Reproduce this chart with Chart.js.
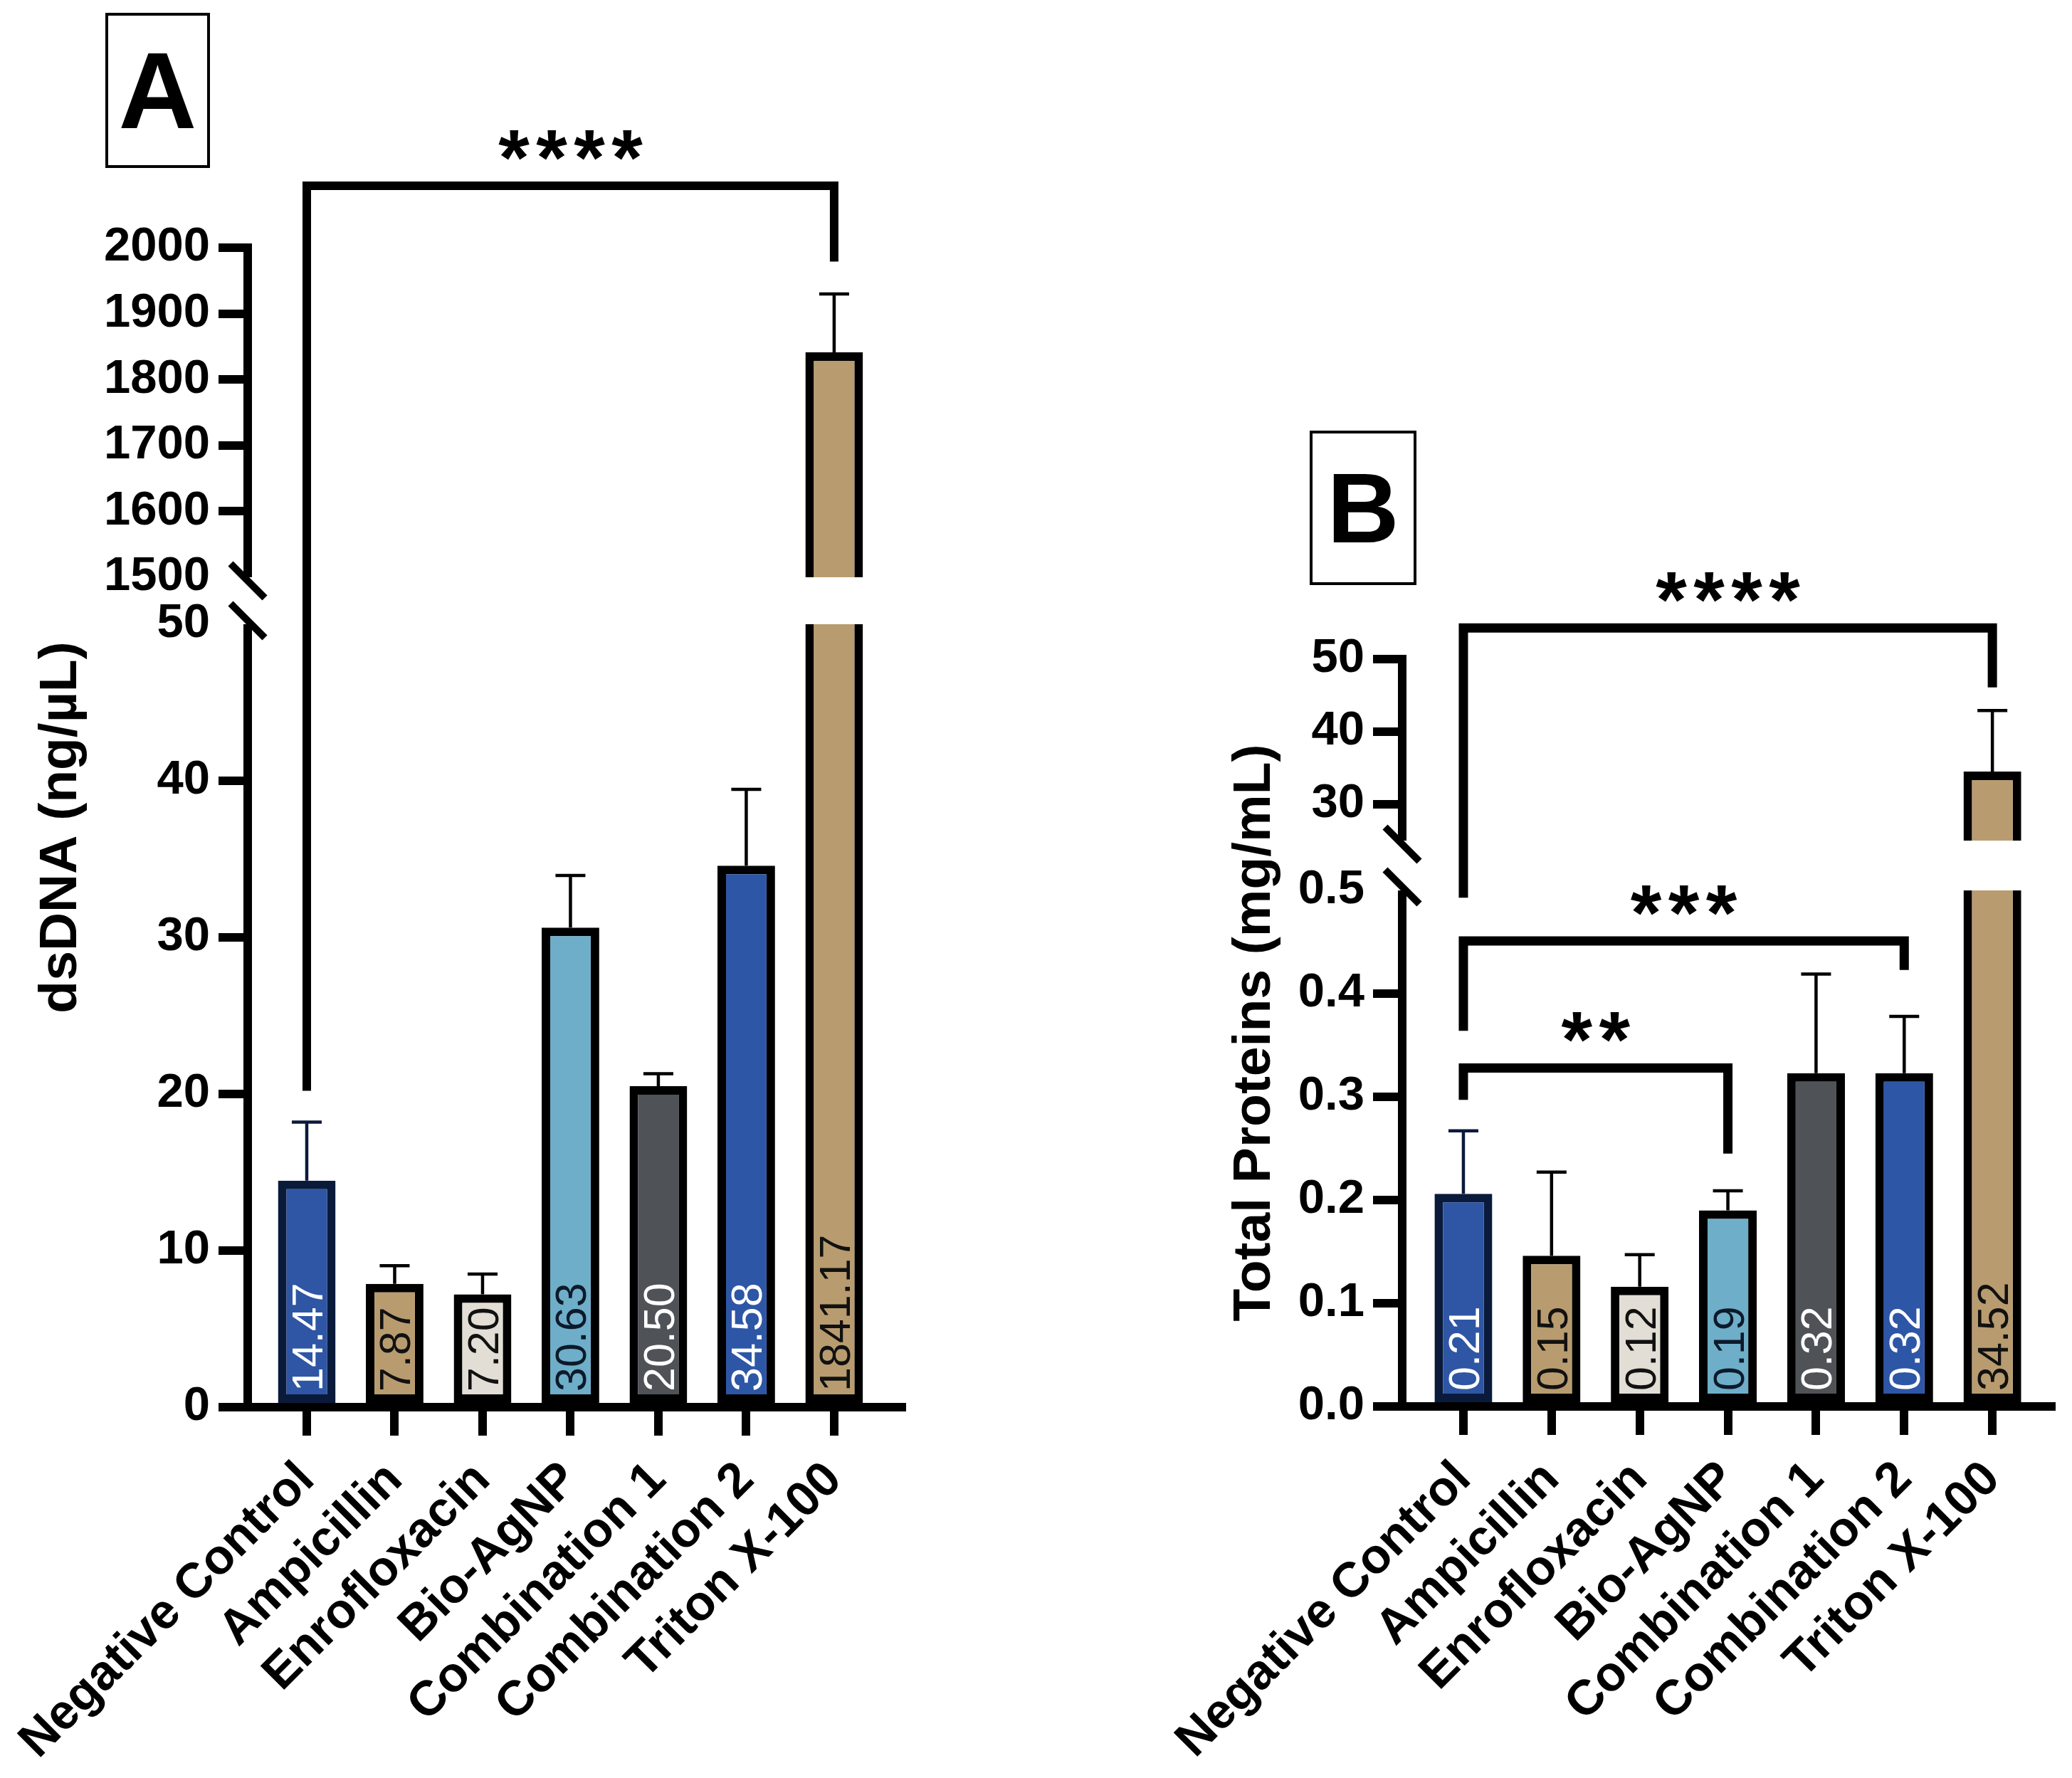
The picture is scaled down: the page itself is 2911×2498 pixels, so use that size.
<!DOCTYPE html>
<html>
<head>
<meta charset="utf-8">
<script src="https://cdn.jsdelivr.net/npm/chart.js@4.4.1/dist/chart.umd.min.js"></script>
<style>
  html, body { margin: 0; background: #fff; }
  body { width: 2911px; height: 2498px; position: relative; overflow: hidden; }
  canvas { position: absolute; top: 0; }
  #dna  { left: 0; }
  #prot { left: 1450px; }
</style>
</head>
<body>
<canvas id="dna" width="1450" height="2498"></canvas>
<canvas id="prot" width="1461" height="2498"></canvas>
<script>
/* ── data ── */
const groups    = ['Negative Control', 'Ampicillin', 'Enrofloxacin', 'Bio-AgNP',
                   'Combination 1', 'Combination 2', 'Triton X-100'];

const dnaMean   = [14.47, 7.87, 7.20, 30.63, 20.50, 34.58, 1841.17];
const dnaSD     = [3.73, 1.16, 1.30, 3.32, 0.80, 4.87, 88.6];
const dnaTicks  = [0, 10, 20, 30, 40, 50, 1500, 1600, 1700, 1800, 1900, 2000];

const protMean  = [0.206, 0.146, 0.116, 0.19, 0.323, 0.323, 34.52];
const protSD    = [0.061, 0.081, 0.031, 0.019, 0.096, 0.055, 8.4];
const protTicks = [0, 0.1, 0.2, 0.3, 0.4, 0.5, 30, 40, 50];

// [from group, to group, bracket level, left leg end, right leg end, stars]
const dnaSig  = [[0, 6, 2094, 20.2, 1979, '****']];
const protSig = [[0, 6, 54.3, 0.493, 46.1, '****'],
                 [0, 5, 0.451, 0.364, 0.423, '***'],
                 [0, 3, 0.328, 0.297, 0.245, '**']];

/* ── styles ── */
const FONT      = "'Liberation Sans', Arial, sans-serif";
const BAR_FILL  = ['#2e56a5', '#b89c6f', '#e2ded5', '#6eaec9', '#4f5358', '#2e56a6', '#b89c6f'];
const BAR_EDGE  = ['#0a1a3b', '#000', '#000', '#000', '#000', '#000', '#000'];
const LABEL_INK = ['#fff', '#111', '#111', '#0d1a2a', '#fff', '#fff', '#111'];

/* ── broken y axis: a linear scale with a gap between brk.lo and brk.hi ── */
class BrokenScale extends Chart.LinearScale {
  static id = 'broken';
  static defaults = {};
  _segs() {
    const b = this.options.brk;
    const gap = b.gap, usable = this.bottom - this.top - gap;
    const lowH = usable * b.split;
    return { lo: b.lo, hi: b.hi, gap, lowH, highH: usable - lowH };
  }
  getPixelForValue(v) {
    if (v === null || v === undefined || isNaN(v)) return NaN;
    const s = this._segs();
    if (v <= s.lo) return this.bottom - (v - this.min) / (s.lo - this.min) * s.lowH;
    if (v >= s.hi) return this.bottom - s.lowH - s.gap - (v - s.hi) / (this.max - s.hi) * s.highH;
    return this.bottom - s.lowH - (v - s.lo) / (s.hi - s.lo) * s.gap;
  }
  getValueForPixel(p) {
    const s = this._segs();
    const d = this.bottom - p;
    if (d <= s.lowH) return this.min + d / s.lowH * (s.lo - this.min);
    if (d >= s.lowH + s.gap) return s.hi + (d - s.lowH - s.gap) / s.highH * (this.max - s.hi);
    return s.lo + (d - s.lowH) / s.gap * (s.hi - s.lo);
  }
}
Chart.register(BrokenScale);

/* ── extras: error bars, break, value labels, brackets, panel letter ── */
function extras(o) {
  return {
    id: 'extras',
    afterDatasetsDraw(chart) {
      const { ctx, chartArea: area } = chart;
      const ys = chart.scales.y;
      const ds = chart.data.datasets[0];
      const meta = chart.getDatasetMeta(0);
      ctx.save();

      // upper whiskers
      meta.data.forEach((bar, i) => {
        const tip = ys.getPixelForValue(ds.data[i].y + ds.sd[i]);
        ctx.strokeStyle = BAR_EDGE[i];
        ctx.lineWidth = 4.5;
        ctx.beginPath();
        ctx.moveTo(bar.x, bar.y);
        ctx.lineTo(bar.x, tip);
        ctx.moveTo(bar.x - 21, tip);
        ctx.lineTo(bar.x + 21, tip);
        ctx.stroke();
      });

      // blank the axis break
      const yHi = ys.getPixelForValue(o.brk.hi);
      const yLo = ys.getPixelForValue(o.brk.lo);
      ctx.fillStyle = '#fff';
      ctx.fillRect(area.left - 9, yHi, area.right - area.left + 9, yLo - yHi);

      // values written up the bars
      ctx.font = `61px ${FONT}`;
      const base = ys.getPixelForValue(0);
      meta.data.forEach((bar, i) => {
        ctx.save();
        ctx.translate(bar.x + 22, base - 22);
        ctx.rotate(-Math.PI / 2);
        ctx.fillStyle = LABEL_INK[i];
        ctx.textAlign = 'left';
        ctx.textBaseline = 'alphabetic';
        ctx.fillText(ds.data[i].y.toFixed(2), 0, 0);
        ctx.restore();
      });
      ctx.restore();
    },
    afterDraw(chart) {
      const { ctx, chartArea: area } = chart;
      const xs = chart.scales.x, ys = chart.scales.y;
      ctx.save();
      ctx.strokeStyle = '#000';
      ctx.fillStyle = '#000';

      // break marks on the axis
      ctx.lineWidth = 10;
      ctx.lineCap = 'butt';
      [ys.getPixelForValue(o.brk.hi) + 5, ys.getPixelForValue(o.brk.lo) - 5].forEach(y => {
        ctx.beginPath();
        ctx.moveTo(area.left - 24, y - 24);
        ctx.lineTo(area.left + 24, y + 24);
        ctx.stroke();
      });

      // significance brackets
      ctx.font = `bold 112px ${FONT}`;
      const m = ctx.measureText('*');
      const starShift = (m.actualBoundingBoxAscent - m.actualBoundingBoxDescent) / 2;
      ctx.textAlign = 'center';
      ctx.textBaseline = 'alphabetic';
      o.sig.forEach(([g1, g2, level, end1, end2, stars]) => {
        const x1 = xs.getPixelForValue(g1), x2 = xs.getPixelForValue(g2);
        const yb = ys.getPixelForValue(level);
        ctx.lineWidth = o.bracketW;
        ctx.lineJoin = 'miter';
        ctx.beginPath();
        ctx.moveTo(x1, ys.getPixelForValue(end1));
        ctx.lineTo(x1, yb);
        ctx.lineTo(x2, yb);
        ctx.lineTo(x2, ys.getPixelForValue(end2));
        ctx.stroke();
        const cx = (x1 + x2) / 2, cy = yb - 57;
        for (let k = 0; k < stars.length; k++) {
          ctx.fillText('*', cx + (k - (stars.length - 1) / 2) * 53, cy + starShift);
        }
      });

      // panel letter in its box
      const b = o.box;
      ctx.lineWidth = 4;
      ctx.strokeRect(b.x, b.y, b.w, b.h);
      ctx.font = `bold ${b.size}px ${FONT}`;
      const lm = ctx.measureText(o.letter);
      ctx.fillText(o.letter, b.x + b.w / 2,
        b.y + b.h / 2 + (lm.actualBoundingBoxAscent - lm.actualBoundingBoxDescent) / 2);
      ctx.restore();
    }
  };
}

function makePanel(id, o) {
  return new Chart(document.getElementById(id), {
    type: 'bar',
    data: {
      datasets: [{
        data: o.means.map((v, i) => ({ x: i, y: v })),
        sd: o.sd,
        backgroundColor: BAR_FILL,
        borderColor: BAR_EDGE,
        borderWidth: 12,
        borderSkipped: false,
        categoryPercentage: 1,
        barPercentage: 0.655
      }]
    },
    options: {
      responsive: false,
      animation: false,
      devicePixelRatio: 1,
      events: [],
      layout: { padding: { left: 0, top: o.top, right: o.right, bottom: 0 } },
      plugins: { legend: { display: false }, tooltip: { enabled: false } },
      scales: {
        x: {
          type: 'linear',
          position: 'bottom',
          offset: false,
          min: o.xMin,
          max: o.xMax,
          afterBuildTicks: s => { s.ticks = groups.map((g, i) => ({ value: i })); },
          afterFit: s => { s.height = o.xAxisH; s.paddingLeft = 0; s.paddingRight = 0; },
          ticks: {
            callback: v => groups[v],
            autoSkip: false, minRotation: 45, maxRotation: 45, padding: 22,
            color: '#000', font: { family: FONT, size: 69, weight: 'bold' }
          },
          grid: { offset: false, drawOnChartArea: false, drawTicks: true, tickLength: 40, lineWidth: 12, color: '#000' },
          border: { display: true, width: 12, color: '#000' }
        },
        y: {
          type: 'broken',
          position: 'left',
          min: o.yMin,
          max: o.yMax,
          brk: o.brk,
          afterBuildTicks: s => { s.ticks = o.ticks.map(v => ({ value: v })); },
          afterFit: s => { s.width = o.yAxisW; s.paddingTop = 0; s.paddingBottom = 0; },
          ticks: {
            callback: o.fmt,
            autoSkip: false, padding: 12,
            color: '#000', font: { family: FONT, size: 67, weight: 'bold' }
          },
          grid: {
            drawOnChartArea: false, drawTicks: true, tickLength: 41, lineWidth: 12,
            color: c => (c.tick && (c.tick.value === o.brk.lo || c.tick.value === o.brk.hi))
              ? 'rgba(0,0,0,0)' : '#000'
          },
          border: { display: true, width: 12, color: '#000' },
          title: {
            display: true, text: o.title, color: '#000',
            font: { family: FONT, size: 75, weight: 'bold' },
            padding: { top: o.titlePad, bottom: 0 }
          }
        }
      }
    },
    plugins: [extras(o)]
  });
}

/* ── A: dsDNA ── */
makePanel('dna', {
  means: dnaMean, sd: dnaSD, ticks: dnaTicks, sig: dnaSig,
  fmt: v => String(v),
  yMin: 0, yMax: 2000,
  brk: { lo: 50, hi: 1500, gap: 66, split: 1100 / 1563 },
  title: 'dsDNA (ng/µL)', titlePad: 41,
  top: 348, right: 183, yAxisW: 348, xAxisH: 521,
  xMin: -0.672, xMax: 6.77, bracketW: 12,
  letter: 'A', box: { x: 150, y: 20, w: 143, h: 214, size: 152 }
});

/* ── B: total proteins ── */
makePanel('prot', {
  means: protMean, sd: protSD, ticks: protTicks, sig: protSig,
  fmt: v => (v < 1 ? v.toFixed(1) : String(v)),
  yMin: 0, yMax: 50,
  brk: { lo: 0.5, hi: 25, gap: 70, split: 725 / 980 },
  title: 'Total Proteins (mg/mL)', titlePad: 268,
  top: 926, right: 29, yAxisW: 520, xAxisH: 522,
  xMin: -0.694, xMax: 6.669, bracketW: 13,
  letter: 'B', box: { x: 392, y: 607, w: 146, h: 213, size: 140 }
});
</script>
</body>
</html>
